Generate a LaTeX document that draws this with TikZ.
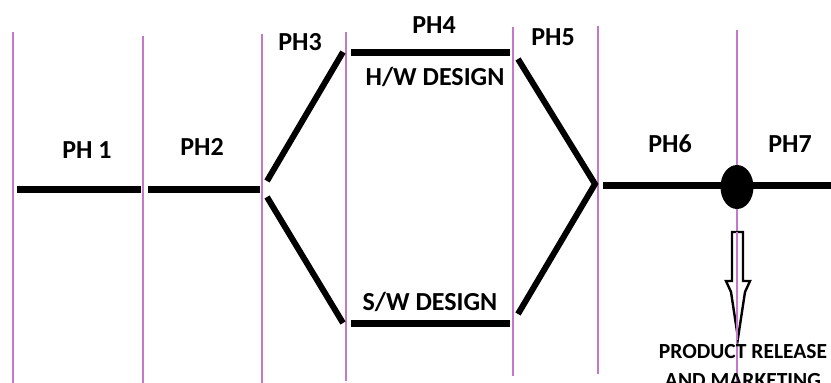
\documentclass[tikz,border=0pt]{standalone}
\usepackage{fontspec}
\usetikzlibrary{shapes.geometric}
\setmainfont{Carlito}
\definecolor{phline}{RGB}{196,120,204}
\begin{document}
\begin{tikzpicture}[x=1pt,y=-1pt,
  divider/.style={draw=phline,line width=1.5pt},
  flow/.style={draw=black,line width=7pt},
  diag/.style={draw=black,line width=6pt},
  lab/.style={font=\bfseries\fontsize{26}{30}\selectfont,anchor=base,inner sep=0pt},
  sublab/.style={font=\bfseries\fontsize{26}{30}\selectfont,anchor=base,inner sep=0pt},
  notelab/.style={font=\bfseries\fontsize{21.5}{24}\selectfont,anchor=base,inner sep=0pt}]
\useasboundingbox (0,0) rectangle (831,383);
% dividers
\draw[divider] (13,32) -- (13,383);
\draw[divider] (143,36) -- (143,383);
\draw[divider] (262,34) -- (262,383);
\draw[divider] (346,32) -- (346,381);
\draw[divider] (513,27) -- (513,376);
\draw[divider] (598,26) -- (598,374);
\draw[divider] (737,30) -- (737,383);
% coordinates
\coordinate (p1a) at (17,189.5);
\coordinate (p1b) at (141,189.5);
\coordinate (p2a) at (148,189.5);
\coordinate (p2b) at (260,189.5);
\coordinate (up0) at (267,181);
\coordinate (up1) at (343,52);
\coordinate (hwa) at (351,52);
\coordinate (hwb) at (510,52);
\coordinate (lo0) at (267,197);
\coordinate (lo1) at (343,323);
\coordinate (swa) at (351,323);
\coordinate (swb) at (510,323);
\coordinate (r0) at (518,59);
\coordinate (rm) at (595,184);
\coordinate (r1) at (518,314);
\coordinate (p6a) at (603,185.5);
\coordinate (p6b) at (831,185.5);
% flow lines
\draw[flow] (p1a) -- (p1b);
\draw[flow] (p2a) -- (p2b);
\draw[diag] (up0) -- (up1);
\draw[diag] (lo0) -- (lo1);
\draw[flow] (hwa) -- (hwb);
\draw[flow] (swa) -- (swb);
\draw[diag,line join=miter] (r0) -- (rm) -- (r1);
\draw[flow] (p6a) -- (p6b);
\node[fill=black,ellipse,minimum width=33pt,minimum height=44pt,inner sep=0pt] (dot) at (737,187) {};
% hollow arrow
\draw[black,line width=2.4pt,fill=white,line join=miter]
  (732,232) -- (743,232) -- (743,281) -- (750,281) -- (745,292) -- (738,338)
  -- (731,292) -- (726,281) -- (732,281) -- cycle;
\draw[phline,line width=1.5pt] (737,232) -- (737,340);
% labels
\node[lab] (ph1) at (87,158) {PH 1};
\node[lab] (ph2) at (202,155) {PH2};
\node[lab] (ph3) at (300,50) {PH3};
\node[lab] (ph4) at (434,33) {PH4};
\node[sublab] (hw) at (435,85) {H/W DESIGN};
\node[lab] (ph5) at (553,45) {PH5};
\node[lab] (ph6) at (670,152) {PH6};
\node[lab] (ph7) at (790,152) {PH7};
\node[sublab] (sw) at (430,310) {S/W DESIGN};
\node[notelab] (prl) at (743,358) {PRODUCT RELEASE};
\node[notelab] (mkt) at (743,387) {AND MARKETING};
\end{tikzpicture}
\end{document}
